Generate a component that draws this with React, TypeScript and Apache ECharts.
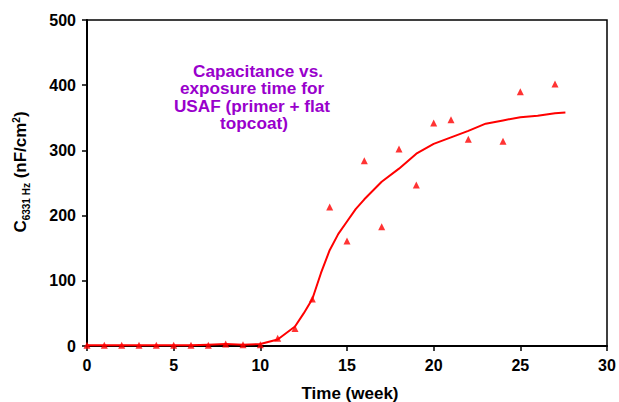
import React, { useEffect, useRef } from "react";
import * as echarts from "echarts";

const obsWeeks = [0, 1, 2, 3, 4, 5, 6, 7, 8, 9, 10, 11, 12, 13, 14, 15, 16, 17, 18, 19, 20, 21, 22, 24, 25, 27];
const obsValues = [1, 1, 1, 1, 1, 1, 1, 1, 3, 2, 2, 12, 27, 72, 213, 161, 284, 183, 302, 247, 342, 347, 317, 314, 390, 402];

const fitWeeks = [0, 1, 2, 3, 4, 5, 6, 7, 8, 9, 10, 11, 12, 12.5, 13, 13.5, 14, 14.5, 15, 15.5, 16, 17, 18, 19, 20, 21, 22, 23, 24, 25, 26, 27, 27.6];
const fitValues = [1, 1, 1, 1, 1, 1, 1, 2, 3, 2, 3, 10, 30, 50, 72, 112, 147, 172, 191, 210, 225, 252, 272, 295, 310, 320, 330, 341, 346, 351, 353, 357, 358];

const xTicks = { min: 0, max: 30, interval: 5 };
const yTicks = { min: 0, max: 500, interval: 100 };

const titleLines = ["Capacitance vs.", "exposure time for", "USAF (primer + flat", "topcoat)"];
const titleCenters = [258, 252, 252, 254];

export default function App() {
  const ref = useRef<HTMLDivElement>(null);
  useEffect(() => {
    if (!ref.current) return;
    const chart = echarts.init(ref.current, null, { renderer: "svg" });
    const font = "'Liberation Sans', Arial, Helvetica, sans-serif";
    chart.setOption({
      animation: false,
      textStyle: { fontFamily: font },
      grid: {
        left: 87,
        right: 12,
        top: 20,
        bottom: 56,
        show: true,
        borderColor: "#000",
        borderWidth: 1.5,
        outerBoundsMode: "none",
        containLabel: false,
      },
      xAxis: {
        type: "value",
        min: xTicks.min,
        max: xTicks.max,
        interval: xTicks.interval,
        name: "Time (week)",
        nameLocation: "middle",
        nameGap: 38.5,
        nameTextStyle: { fontSize: 17, fontWeight: "bold", color: "#000", fontFamily: font, padding: [0, 0, 0, 6] },
        axisLine: { lineStyle: { color: "#000", width: 2 } },
        axisTick: { show: true, inside: false, length: 5, lineStyle: { color: "#000", width: 1.5 } },
        axisLabel: { fontSize: 16, fontWeight: "bold", color: "#000", margin: 11, fontFamily: font },
        splitLine: { show: false },
      },
      yAxis: {
        type: "value",
        min: yTicks.min,
        max: yTicks.max,
        interval: yTicks.interval,
        axisLine: { show: true, lineStyle: { color: "#000", width: 2 } },
        axisTick: { show: true, inside: false, length: 5, lineStyle: { color: "#000", width: 1.5 } },
        axisLabel: { fontSize: 16, fontWeight: "bold", color: "#000", margin: 11, fontFamily: font },
        splitLine: { show: false },
      },
      graphic: [
        ...titleLines.map((t, i) => ({
          type: "text",
          x: titleCenters[i],
          y: 71 + i * 17.3,
          style: {
            text: t,
            fill: "#9900CC",
            font: `bold 17.2px ${font}`,
            textAlign: "center",
            textVerticalAlign: "middle",
          },
        })),
        {
          type: "text",
          x: 20,
          y: 172,
          rotation: Math.PI / 2,
          style: {
            text: "{b|C}{s|6331 Hz}{b| (nF/cm}{sup|2}{b|)}",
            textAlign: "center",
            textVerticalAlign: "middle",
            rich: {
              b: { font: `bold 17px ${font}`, fill: "#000", verticalAlign: "bottom" },
              s: { font: `bold 10px ${font}`, fill: "#000", verticalAlign: "bottom", padding: [0, 0, -3, 0] },
              sup: { font: `bold 10px ${font}`, fill: "#000", verticalAlign: "top", padding: [0, 0, 6, 0] },
            },
          },
        },
      ],
      series: [
        {
          type: "line",
          data: fitWeeks.map((w, i) => [w, fitValues[i]]),
          showSymbol: false,
          lineStyle: { color: "#FF0000", width: 2 },
          itemStyle: { color: "#FF0000" },
          z: 2,
        },
        {
          type: "scatter",
          data: obsWeeks.map((w, i) => [w, obsValues[i]]),
          symbol: "triangle",
          symbolSize: 7,
          itemStyle: { color: "#FF0000" },
          z: 3,
        },
      ],
    });
    return () => chart.dispose();
  }, []);
  return <div ref={ref} style={{ width: 619, height: 402, position: "absolute", left: 0, top: 0 }} />;
}
